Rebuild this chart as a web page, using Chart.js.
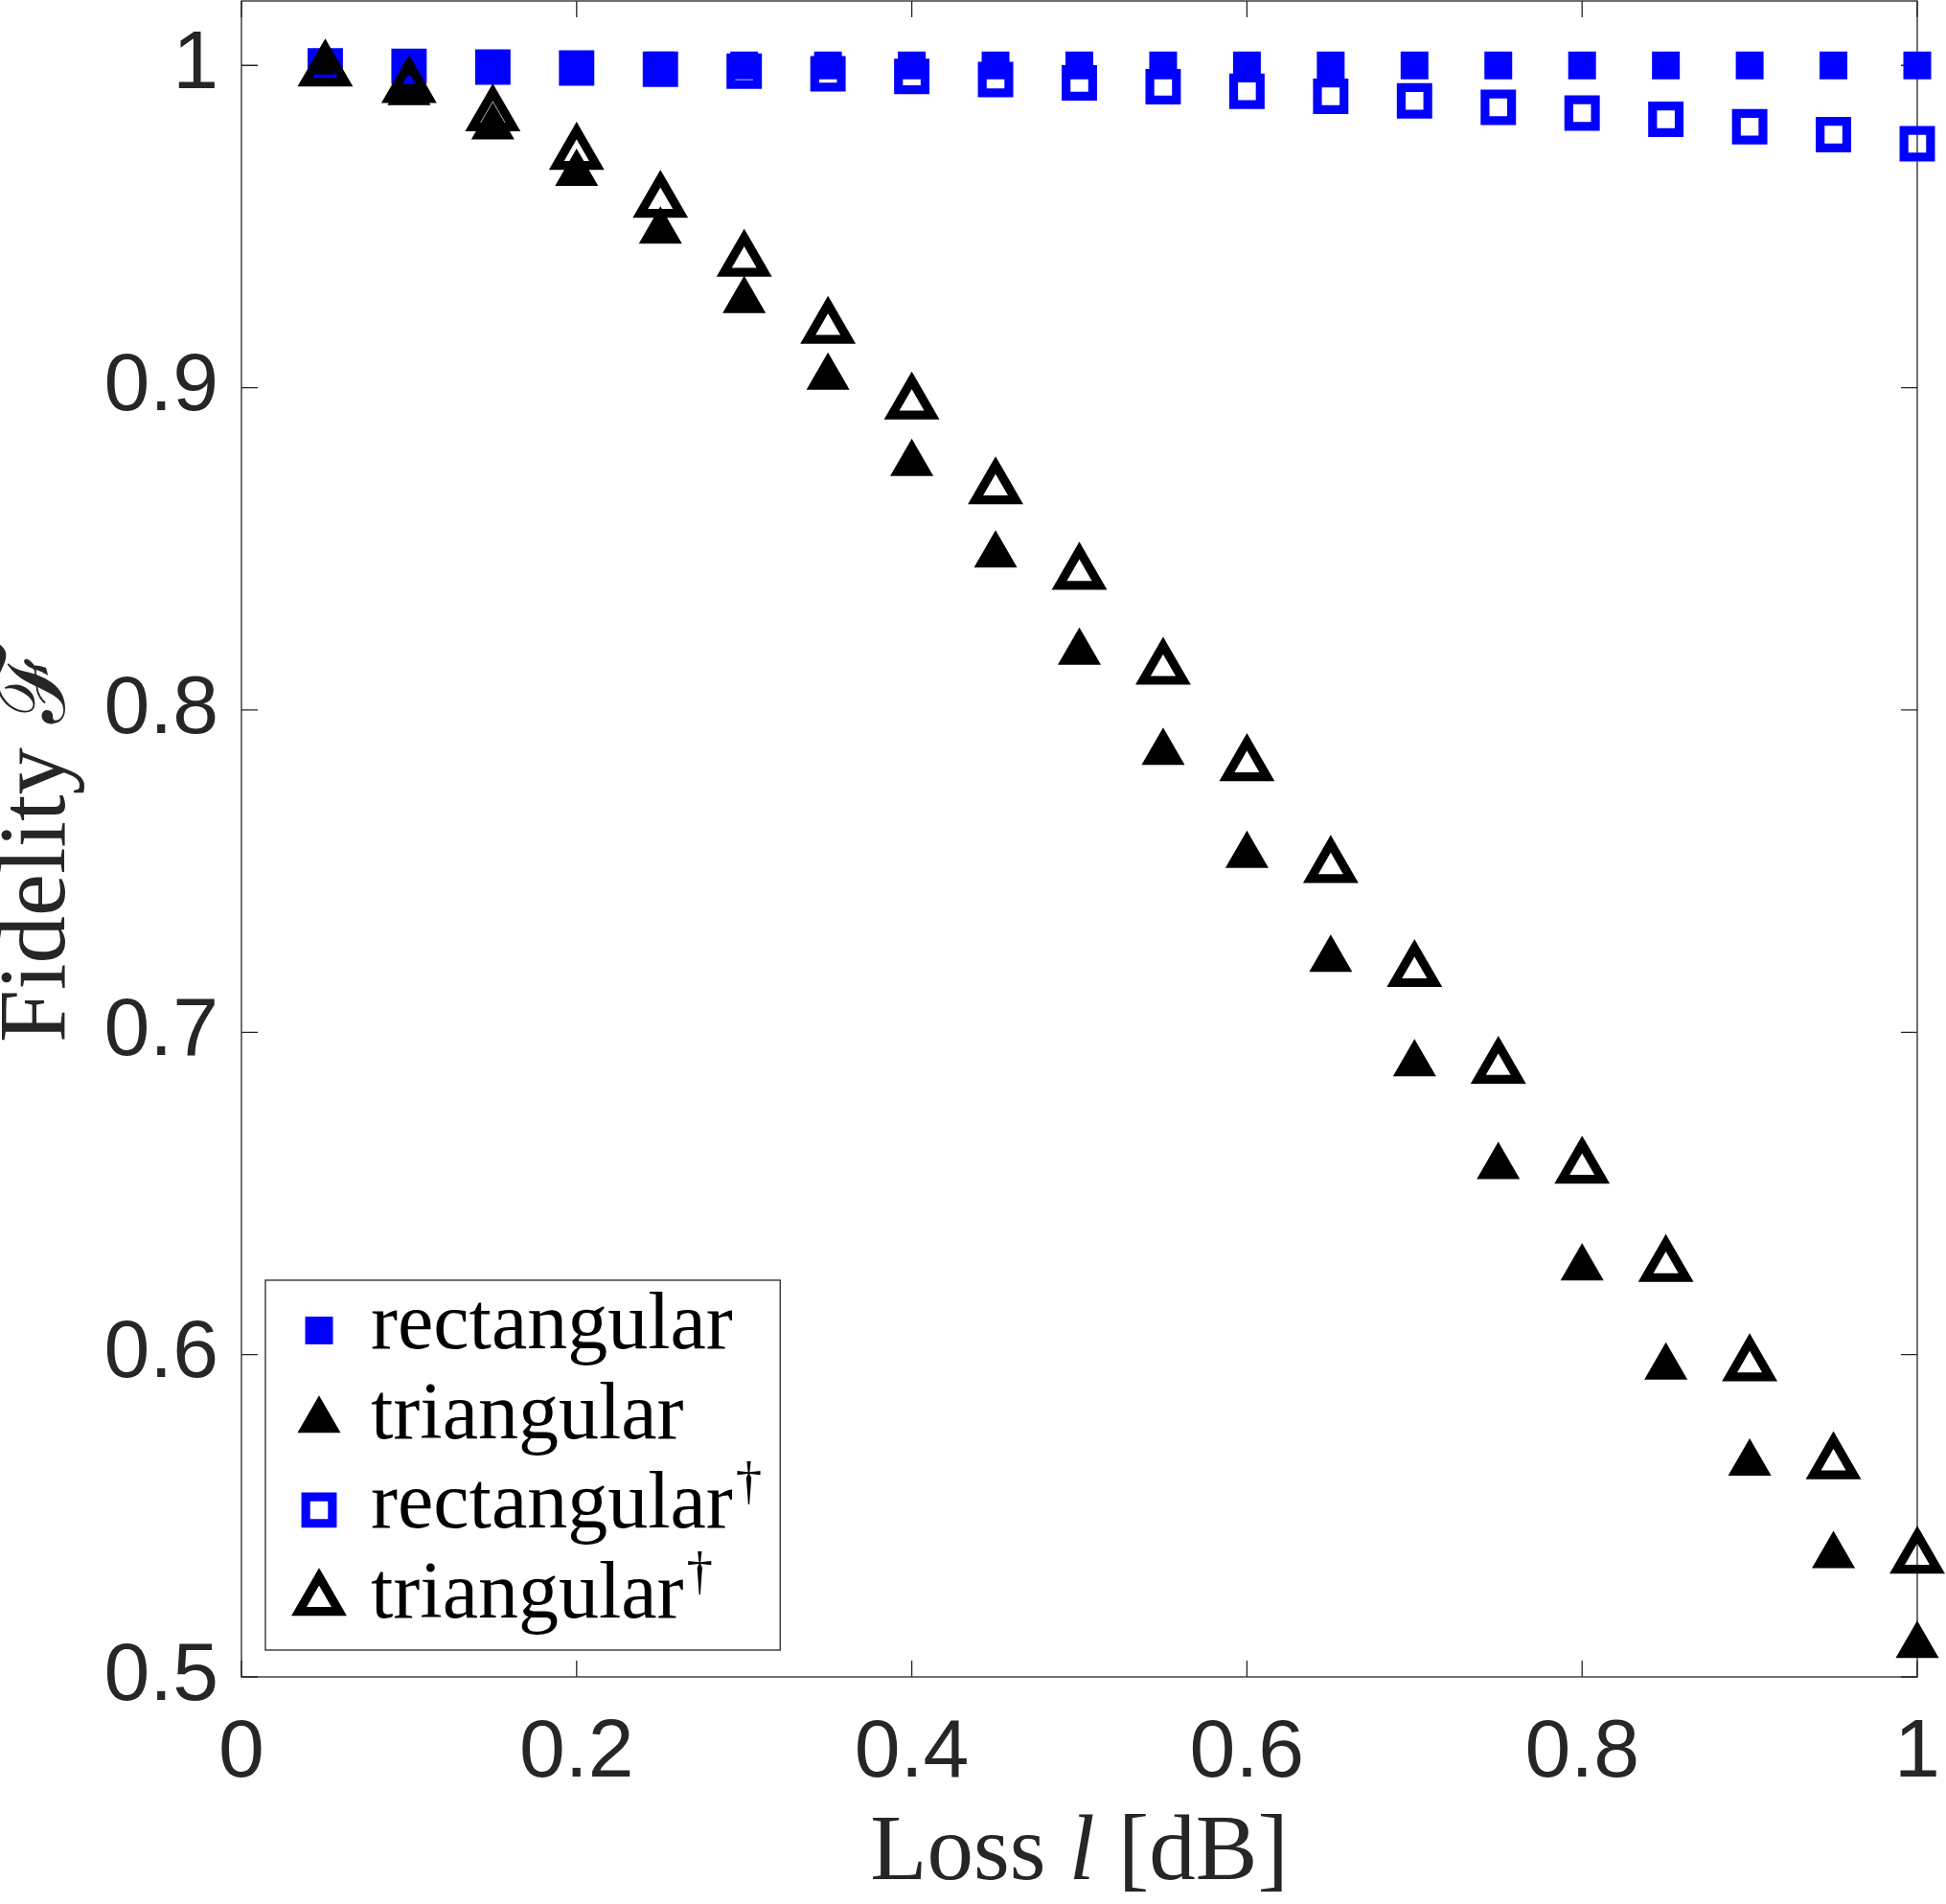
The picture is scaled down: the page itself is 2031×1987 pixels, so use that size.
<!DOCTYPE html>
<html lang="en">
<head>
  <meta charset="UTF-8" />
  <title>Fidelity vs loss</title>
  <script src="https://cdn.jsdelivr.net/npm/chart.js@4"></script>
  <style>
    body { margin: 0; background: #fff; }
    canvas { display: block; }
  </style>
</head>
<body>

<canvas id="fidelityChart" width="2031" height="1987"></canvas>

<script>
  // loss l [dB]
  const lossDb = [0.05, 0.10, 0.15, 0.20, 0.25, 0.30, 0.35, 0.40, 0.45, 0.50,
                  0.55, 0.60, 0.65, 0.70, 0.75, 0.80, 0.85, 0.90, 0.95, 1.00];

  const rectangular = [1.000, 1.000, 1.000, 1.000, 1.000, 1.000, 1.000, 1.000, 1.000, 1.000,
                       1.000, 1.000, 1.000, 1.000, 1.000, 1.000, 1.000, 1.000, 1.000, 1.000];
  const triangular = [1.000, 0.9915, 0.9809, 0.9665, 0.9486, 0.9270, 0.9032, 0.8765, 0.8481, 0.8179,
                      0.7868, 0.7549, 0.7226, 0.6902, 0.6583, 0.6269, 0.5961, 0.5663, 0.5376, 0.5097];
  const rectangularDagger = [0.9999, 0.9997, 0.9995, 0.9992, 0.9988, 0.9982, 0.9974, 0.9966, 0.9956, 0.9946,
                             0.9934, 0.9920, 0.9904, 0.9890, 0.9870, 0.9852, 0.9833, 0.9810, 0.9785, 0.9757];
  const triangularDagger = [0.9984, 0.9933, 0.9845, 0.9726, 0.9577, 0.9394, 0.9186, 0.8951, 0.8688, 0.8423,
                            0.8128, 0.7829, 0.7513, 0.7190, 0.6890, 0.6580, 0.6275, 0.5967, 0.5663, 0.5370];

  const seriesLabels = ['rectangular', 'triangular', 'rectangular\u2020', 'triangular\u2020'];
  const xTickValues = [0, 0.2, 0.4, 0.6, 0.8, 1];
  const yTickValues = [0.5, 0.6, 0.7, 0.8, 0.9, 1];
  const xTitle = ['Loss ', 'l', ' [dB]'];   // middle piece is italic
  const yTitle = 'Fidelity \u2131';

  const axisColor = '#262626';
  const serif = '"Liberation Serif", "DejaVu Serif", serif';

  const toPoints = ys => lossDb.map((x, i) => ({ x: x, y: ys[i] }));

  // draw one marker the same way Chart.js draws the points
  function drawMarker(ctx, ds, x, y) {
    ctx.save();
    ctx.fillStyle = ds.pointBackgroundColor;
    ctx.strokeStyle = ds.pointBorderColor;
    ctx.lineWidth = ds.pointBorderWidth;
    const r = ds.pointRadius;
    if (Chart.helpers && Chart.helpers.drawPoint) {
      Chart.helpers.drawPoint(ctx, { pointStyle: ds.pointStyle, radius: r, rotation: 0, borderWidth: ds.pointBorderWidth }, x, y);
    } else {
      ctx.beginPath();
      if (ds.pointStyle === 'triangle') {
        ctx.moveTo(x, y - r);
        ctx.lineTo(x + 0.866 * r, y + 0.5 * r);
        ctx.lineTo(x - 0.866 * r, y + 0.5 * r);
        ctx.closePath();
      } else {
        const s = r * Math.SQRT1_2;
        ctx.rect(x - s, y - s, 2 * s, 2 * s);
      }
      ctx.fill();
      if (ds.pointBorderWidth > 0) ctx.stroke();
    }
    ctx.restore();
  }

  const matlabBox = {
    id: 'matlabBox',
    beforeDatasetsDraw(chart) {
      const { ctx, chartArea: a, scales: { x, y } } = chart;
      const tl = 17;
      ctx.save();
      ctx.strokeStyle = axisColor;
      ctx.lineWidth = 1.3;
      ctx.strokeRect(a.left, a.top, a.right - a.left, a.bottom - a.top);
      ctx.beginPath();
      x.ticks.forEach(t => {
        const px = x.getPixelForValue(t.value);
        ctx.moveTo(px, a.bottom); ctx.lineTo(px, a.bottom - tl);
        ctx.moveTo(px, a.top); ctx.lineTo(px, a.top + tl);
      });
      y.ticks.forEach(t => {
        const py = y.getPixelForValue(t.value);
        ctx.moveTo(a.left, py); ctx.lineTo(a.left + tl, py);
        ctx.moveTo(a.right, py); ctx.lineTo(a.right - tl, py);
      });
      ctx.stroke();
      ctx.restore();
    },
    afterDraw(chart) {
      const { ctx, chartArea: a } = chart;
      ctx.save();
      ctx.fillStyle = axisColor;
      ctx.textBaseline = 'alphabetic';

      // x title with italic l
      const fonts = ['97px ' + serif, 'italic 97px ' + serif, '97px ' + serif];
      let total = 0;
      const widths = xTitle.map((t, i) => { ctx.font = fonts[i]; const w = ctx.measureText(t).width; total += w; return w; });
      let tx = (a.left + a.right) / 2 - total / 2;
      xTitle.forEach((t, i) => {
        ctx.font = fonts[i];
        ctx.textAlign = 'left';
        ctx.fillText(t, tx, a.bottom + 211);
        tx += widths[i];
      });

      // y title, starts at the same height as in the original
      ctx.save();
      ctx.translate(a.left - 185, a.bottom - 662);
      ctx.rotate(-Math.PI / 2);
      ctx.font = '99px ' + serif;
      ctx.textAlign = 'left';
      ctx.fillText(yTitle, 0, 0);
      ctx.restore();

      // legend
      const left = a.left + 25, top = a.bottom - 414, bottom = a.bottom - 28;
      const textX = left + 110;
      const mainFont = '84px ' + serif, supFont = '55px ' + serif;
      let maxEnd = 0;
      const rows = chart.data.datasets.map(ds => {
        const lbl = ds.label;
        const hasSup = lbl.endsWith('\u2020');
        const base = hasSup ? lbl.slice(0, -1) : lbl;
        ctx.font = mainFont;
        const w = ctx.measureText(base).width;
        let end = textX + w;
        if (hasSup) { ctx.font = supFont; end += 3 + ctx.measureText('\u2020').width; }
        maxEnd = Math.max(maxEnd, end);
        return { ds, base, hasSup, w };
      });
      const right = Math.max(left + 533, maxEnd + 19);
      ctx.fillStyle = '#ffffff';
      ctx.fillRect(left, top, right - left, bottom - top);
      ctx.strokeStyle = axisColor;
      ctx.lineWidth = 1.3;
      ctx.strokeRect(left, top, right - left, bottom - top);

      rows.forEach((row, i) => {
        const base = top + 71 + i * 93.7;
        drawMarker(ctx, row.ds, left + 56, base - 18.5);
        ctx.fillStyle = '#000000';
        ctx.textAlign = 'left';
        ctx.font = mainFont;
        ctx.fillText(row.base, textX, base);
        if (row.hasSup) {
          ctx.font = supFont;
          ctx.fillText('\u2020', textX + row.w + 3, base - 30);
        }
      });
      ctx.restore();
    }
  };

  const tickFont = { family: '"Liberation Sans", Arial, sans-serif', size: 86 };

  new Chart(document.getElementById('fidelityChart'), {
    type: 'scatter',
    data: {
      datasets: [
        { label: seriesLabels[0], data: toPoints(rectangular), order: 3,
          pointStyle: 'rect', pointRadius: 20.5, pointHoverRadius: 20.5,
          pointBackgroundColor: '#0000ff', pointBorderColor: '#0000ff', pointBorderWidth: 0, clip: false },
        { label: seriesLabels[1], data: toPoints(triangular), order: 2,
          pointStyle: 'triangle', pointRadius: 26, pointHoverRadius: 26,
          pointBackgroundColor: '#000000', pointBorderColor: '#000000', pointBorderWidth: 0, clip: false },
        { label: seriesLabels[2], data: toPoints(rectangularDagger), order: 1,
          pointStyle: 'rect', pointRadius: 19.6, pointHoverRadius: 19.6,
          pointBackgroundColor: 'rgba(0,0,0,0)', pointBorderColor: '#0000ff', pointBorderWidth: 9.2, clip: false },
        { label: seriesLabels[3], data: toPoints(triangularDagger), order: 0,
          pointStyle: 'triangle', pointRadius: 24.2, pointHoverRadius: 24.2,
          pointBackgroundColor: 'rgba(0,0,0,0)', pointBorderColor: '#000000', pointBorderWidth: 9.2, clip: false }
      ]
    },
    options: {
      responsive: false,
      animation: false,
      events: [],
      layout: { autoPadding: false, padding: { left: 0, right: 30, top: 1, bottom: 0 } },
      plugins: { legend: { display: false }, tooltip: { enabled: false } },
      scales: {
        x: {
          type: 'linear', min: 0, max: 1,
          grid: { display: false, drawTicks: false },
          border: { display: false },
          afterBuildTicks: s => { s.ticks = xTickValues.map(v => ({ value: v })); },
          afterFit: s => { s.height = 237; s.paddingLeft = 0; s.paddingRight = 0; },
          ticks: { padding: 29, font: tickFont, color: axisColor, maxRotation: 0, autoSkip: false,
                   callback: v => String(v) }
        },
        y: {
          type: 'linear', min: 0.5, max: 1.02,
          grid: { display: false, drawTicks: false },
          border: { display: false },
          afterBuildTicks: s => { s.ticks = yTickValues.map(v => ({ value: v })); },
          afterFit: s => { s.width = 252; s.paddingTop = 0; s.paddingBottom = 0; },
          ticks: { padding: 24, font: tickFont, color: axisColor, autoSkip: false,
                   callback: v => String(v) }
        }
      }
    },
    plugins: [matlabBox]
  });
</script>

</body>
</html>
